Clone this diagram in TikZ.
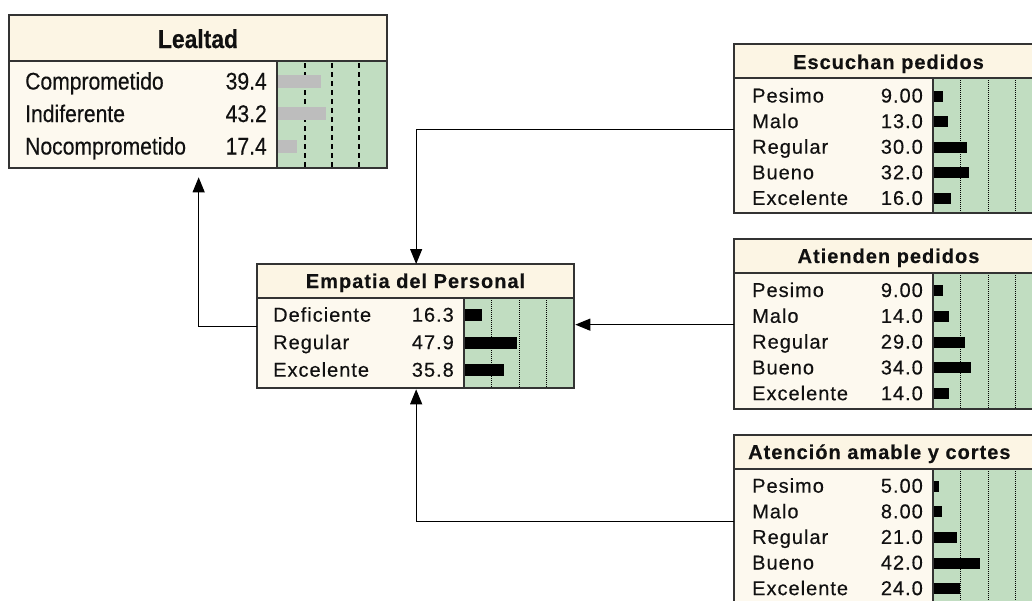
\documentclass[tikz,border=0pt]{standalone}
\usepackage{fontspec}
\setmainfont{Liberation Sans}
\newfontfamily\bodyfont{Liberation Sans}[LetterSpace=5,FakeBold=0.35]
\newfontfamily\narrowfont{Liberation Sans}[FakeStretch=0.88,FakeBold=0.35]
\usetikzlibrary{arrows.meta}
\definecolor{cream}{HTML}{FDF9EF}
\definecolor{titlecream}{HTML}{FCF5E4}
\definecolor{panelgreen}{HTML}{C1DDC1}
\definecolor{bargray}{HTML}{BDBDBD}
\definecolor{edge}{HTML}{333333}
\definecolor{ink}{HTML}{111111}
\tikzset{
  netbox/.style={draw=edge, line width=1.3pt, fill=cream, rectangle, inner sep=0pt, anchor=north west},
  titlebar/.style={fill=titlecream},
  panel/.style={fill=panelgreen},
  divline/.style={draw=edge, line width=1.3pt},
  gridline/.style={draw=black, line width=0.9pt, dash pattern=on 1pt off 1pt},
  dashgrid/.style={draw=black, line width=2pt, dash pattern=on 5pt off 4pt},
  conn/.style={draw=black, line width=1.1pt, -{Triangle[length=15pt,width=12pt]}},
  lbl/.style={anchor=base west, inner sep=0pt, text=ink, font=\bodyfont\fontsize{20}{20}\selectfont},
  val/.style={anchor=base east, inner sep=0pt, text=ink, font=\bodyfont\fontsize{20}{20}\selectfont},
  ttl/.style={anchor=base, inner sep=0pt, text=ink, font=\bodyfont\bfseries\fontsize{20}{20}\selectfont},
  nlbl/.style={anchor=base west, inner sep=0pt, text=ink, font=\narrowfont\fontsize{24}{24}\selectfont},
  nval/.style={anchor=base east, inner sep=0pt, text=ink, font=\narrowfont\fontsize{24}{24}\selectfont},
  nttl/.style={anchor=base, inner sep=0pt, text=ink, font=\narrowfont\bfseries\fontsize{26}{26}\selectfont},
}
\begin{document}
\begin{tikzpicture}[x=1pt,y=-1pt]
\useasboundingbox (0,0) rectangle (1032,600);
\clip (0,0) rectangle (1032,600);
\fill[white] (0,0) rectangle (1032,600);

% ---------- Lealtad ----------
\node[netbox, minimum width=378pt, minimum height=153pt] (leal) at (9,15) {};
\fill[titlebar] (9,15) rectangle (387,61);
\fill[panel] (277,61) rectangle (387,168);
\foreach \gx in {305,332,359} \draw[dashgrid] (\gx,63) -- (\gx,168);
\node[nttl] (lealt) at (198,48) {Lealtad};
\foreach \lab/\v [count=\i from 0] in {Comprometido/39.4, Indiferente/43.2, Nocomprometido/17.4} {
  \pgfmathsetmacro\yb{89.5+32.5*\i}
  \node[nlbl] (leall\i) at (25,\yb) {\lab};
  \node[nval] (lealv\i) at (267,\yb) {\v};
  \fill[bargray] (278,\yb-15) rectangle ++(\v*1.1,13);
}
\draw[divline] (9,61) -- (387,61);
\draw[divline] (277,61) -- (277,168);
\draw[draw=edge, line width=1.3pt] (9,15) rectangle (387,168);

% ---------- Empatia ----------
\node[netbox, minimum width=317pt, minimum height=124pt] (emp) at (257,264) {};
\fill[titlebar] (257,264) rectangle (574,298);
\fill[panel] (464,298) rectangle (574,388);
\foreach \gx in {491.5,519,546.5} \draw[gridline] (\gx,298) -- (\gx,388);
\node[ttl] (empt) at (415.5,288) {Empatia del Personal};
\foreach \lab/\v [count=\i from 0] in {Deficiente/16.3, Regular/47.9, Excelente/35.8} {
  \pgfmathsetmacro\yb{321.7+27.5*\i}
  \node[lbl] (empl\i) at (273,\yb) {\lab};
  \node[val] (empv\i) at (454,\yb) {\v};
  \fill[black] (464.5,\yb-12.5) rectangle ++(\v*1.1,12);
}
\draw[divline] (257,298) -- (574,298);
\draw[divline] (464,298) -- (464,388);
\draw[draw=edge, line width=1.3pt] (257,264) rectangle (574,388);

% ---------- Escuchan pedidos ----------
\node[netbox, minimum width=309pt, minimum height=169pt] (esc) at (734,44) {};
\fill[titlebar] (734,44) rectangle (1043,78);
\fill[panel] (933,78) rectangle (1043,213);
\foreach \gx in {960.5,988,1015.5} \draw[gridline] (\gx,78) -- (\gx,213);
\node[ttl] (esct) at (888.5,69) {Escuchan pedidos};
\foreach \lab/\v [count=\i from 0] in {Pesimo/9.00, Malo/13.0, Regular/30.0, Bueno/32.0, Excelente/16.0} {
  \pgfmathsetmacro\yb{102.5+25.6*\i}
  \node[lbl] (escl\i) at (752,\yb) {\lab};
  \node[val] (escv\i) at (923,\yb) {\v};
  \fill[black] (933.5,\yb-12) rectangle ++(\v*1.1,11);
}
\draw[divline] (734,78) -- (1043,78);
\draw[divline] (933,78) -- (933,213);
\draw[draw=edge, line width=1.3pt] (734,44) rectangle (1043,213);

% ---------- Atienden pedidos ----------
\node[netbox, minimum width=309pt, minimum height=170pt] (ati) at (734,239) {};
\fill[titlebar] (734,239) rectangle (1043,273);
\fill[panel] (933,273) rectangle (1043,409);
\foreach \gx in {960.5,988,1015.5} \draw[gridline] (\gx,273) -- (\gx,409);
\node[ttl] (atit) at (888.5,263) {Atienden pedidos};
\foreach \lab/\v [count=\i from 0] in {Pesimo/9.00, Malo/14.0, Regular/29.0, Bueno/34.0, Excelente/14.0} {
  \pgfmathsetmacro\yb{297+25.8*\i}
  \node[lbl] (atil\i) at (752,\yb) {\lab};
  \node[val] (ativ\i) at (923,\yb) {\v};
  \fill[black] (933.5,\yb-12) rectangle ++(\v*1.1,11);
}
\draw[divline] (734,273) -- (1043,273);
\draw[divline] (933,273) -- (933,409);
\draw[draw=edge, line width=1.3pt] (734,239) rectangle (1043,409);

% ---------- Atencion amable y cortes ----------
\node[netbox, minimum width=309pt, minimum height=171pt] (atn) at (734,435) {};
\fill[titlebar] (734,435) rectangle (1043,469);
\fill[panel] (933,469) rectangle (1043,606);
\foreach \gx in {960.5,988,1015.5} \draw[gridline] (\gx,469) -- (\gx,606);
\node[ttl, anchor=base west] (atnt) at (748,459) {Atención amable y cortes};
\foreach \lab/\v [count=\i from 0] in {Pesimo/5.00, Malo/8.00, Regular/21.0, Bueno/42.0, Excelente/24.0} {
  \pgfmathsetmacro\yb{492.7+25.6*\i}
  \node[lbl] (atnl\i) at (752,\yb) {\lab};
  \node[val] (atnv\i) at (923,\yb) {\v};
  \fill[black] (933.5,\yb-12) rectangle ++(\v*1.1,11);
}
\draw[divline] (734,469) -- (1043,469);
\draw[divline] (933,469) -- (933,606);
\draw[draw=edge, line width=1.3pt] (734,435) rectangle (1043,606);

% ---------- connectors ----------
\draw[conn] (esc.west) -| (emp.north);
\draw[conn] (ati.west) -- (ati.west -| emp.east);
\draw[conn] (atn.west) -| (emp.south);
\draw[conn, shorten >=8pt] (emp.west) -| (leal.south);
\end{tikzpicture}
\end{document}
